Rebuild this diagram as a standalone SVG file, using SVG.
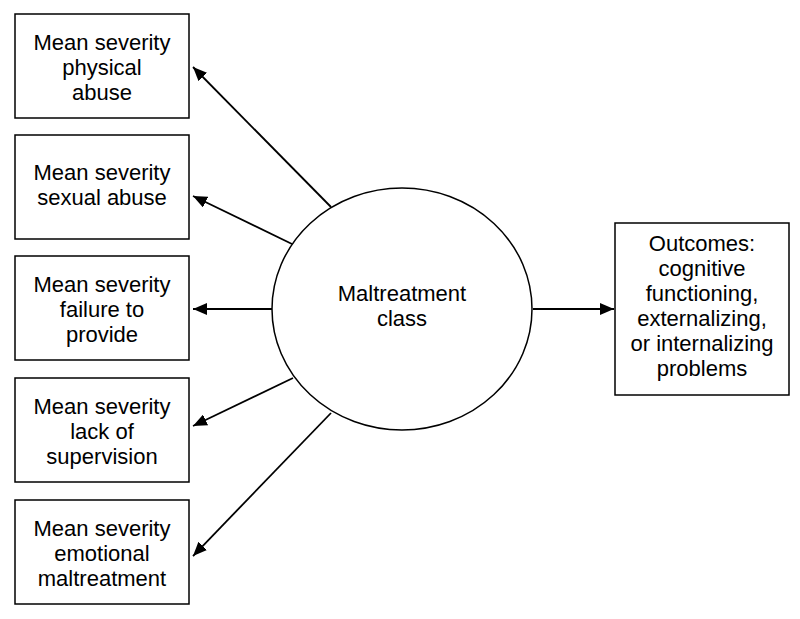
<svg xmlns="http://www.w3.org/2000/svg" width="800" height="619" viewBox="0 0 800 619">
<defs>
<style>
.box{fill:#fff;stroke:#000;stroke-width:1.5}
.lbl{font-family:"Liberation Sans",Arial,sans-serif;font-size:22px;fill:#000;text-anchor:middle}
.edge{stroke:#000;stroke-width:1.8;fill:none;marker-end:url(#ah)}
</style>
<marker id="ah" markerUnits="userSpaceOnUse" markerWidth="14" markerHeight="12" viewBox="0 0 14 12" refX="14" refY="6" orient="auto">
<path d="M0,0 L14,6 L0,12 Z" fill="#000"/>
</marker>
</defs>
<rect width="800" height="619" fill="#fff"/>
<g id="connectors">
<line class="edge" x1="331" y1="207" x2="193" y2="67"/>
<line class="edge" x1="292" y1="244" x2="193" y2="196"/>
<line class="edge" x1="272" y1="309" x2="193" y2="309"/>
<line class="edge" x1="293" y1="378" x2="193" y2="426"/>
<line class="edge" x1="331" y1="413" x2="193" y2="556"/>
<line class="edge" x1="533" y1="309" x2="614" y2="309"/>
</g>
<g id="n1"><rect class="box" x="15" y="14" width="174" height="104"/>
<text class="lbl" x="102" y="50">Mean severity</text><text class="lbl" x="102" y="75">physical</text><text class="lbl" x="102" y="100">abuse</text></g>
<g id="n2"><rect class="box" x="15" y="135" width="174" height="104"/>
<text class="lbl" x="102" y="180">Mean severity</text><text class="lbl" x="102" y="205">sexual abuse</text></g>
<g id="n3"><rect class="box" x="15" y="256" width="174" height="104"/>
<text class="lbl" x="102" y="292">Mean severity</text><text class="lbl" x="102" y="317">failure to</text><text class="lbl" x="102" y="342">provide</text></g>
<g id="n4"><rect class="box" x="15" y="378" width="174" height="104"/>
<text class="lbl" x="102" y="414">Mean severity</text><text class="lbl" x="102" y="439">lack of</text><text class="lbl" x="102" y="464">supervision</text></g>
<g id="n5"><rect class="box" x="15" y="500" width="174" height="104"/>
<text class="lbl" x="102" y="536">Mean severity</text><text class="lbl" x="102" y="561">emotional</text><text class="lbl" x="102" y="586">maltreatment</text></g>
<g id="center"><ellipse cx="402" cy="309" rx="130" ry="121" fill="#fff" stroke="#000" stroke-width="1.5"/>
<text class="lbl" x="402" y="301">Maltreatment</text><text class="lbl" x="402" y="326">class</text></g>
<g id="outcomes"><rect class="box" x="615" y="223" width="174" height="172"/>
<text class="lbl" x="702" y="251">Outcomes:</text><text class="lbl" x="702" y="276">cognitive</text><text class="lbl" x="702" y="301">functioning,</text><text class="lbl" x="702" y="326">externalizing,</text><text class="lbl" x="702" y="351">or internalizing</text><text class="lbl" x="702" y="376">problems</text></g>
</svg>
